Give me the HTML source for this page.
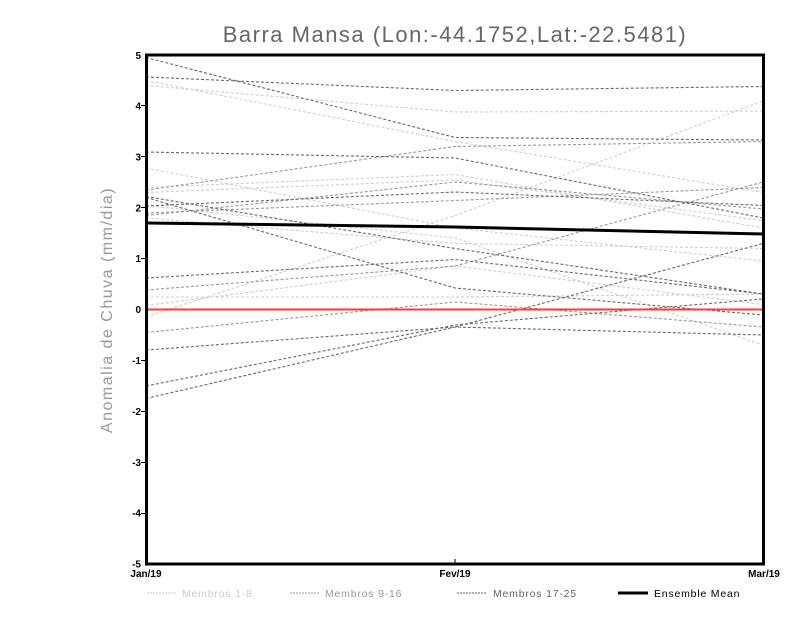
<!DOCTYPE html>
<html><head><meta charset="utf-8"><style>body{margin:0;background:#fff}svg{display:block}</style></head><body>
<svg width="800" height="618" xmlns="http://www.w3.org/2000/svg" font-family="Liberation Sans, sans-serif">
<rect width="800" height="618" fill="#fff"/>
<text x="455" y="42" text-anchor="middle" font-size="22" fill="#666" letter-spacing="1.5">Barra Mansa (Lon:-44.1752,Lat:-22.5481)</text>
<text transform="translate(112,310) rotate(-90)" text-anchor="middle" font-size="16" fill="#999" letter-spacing="1.5">Anomalia de Chuva (mm/dia)</text>
<g fill="none" stroke-width="1.1" stroke-dasharray="3,2" stroke="#cfcfcf">
<polyline points="146,85.5 455,112 763,111"/>
<polyline points="146,80.5 455,141.5 763,192.5"/>
<polyline points="146,168 455,228 763,261"/>
<polyline points="146,317 455,215.5 763,101"/>
<polyline points="146,297 455,297 763,294"/>
<polyline points="146,187.5 455,174.5 763,228"/>
<polyline points="146,205.5 455,238 763,345"/>
<polyline points="146,192.5 455,180 763,220.5"/>
<polyline points="146,218 455,243.5 763,248.5"/>
<polyline points="146,305.5 455,266 763,304.5"/>
</g>
<g fill="none" stroke-width="1.1" stroke-dasharray="3,2" stroke="#999">
<polyline points="146,190 455,146.5 763,141.5"/>
<polyline points="146,213 455,200.5 763,187.5"/>
<polyline points="146,290 455,266 763,182"/>
<polyline points="146,332.5 455,302 763,327"/>
<polyline points="146,215.5 455,182 763,209"/>
</g>
<g fill="none" stroke-width="1.1" stroke-dasharray="3,2" stroke="#6a6a6a">
<polyline points="146,57.5 455,137.5 763,140"/>
<polyline points="146,77 455,90.5 763,86.5"/>
<polyline points="146,196.5 455,248.5 763,294"/>
<polyline points="146,197.5 455,288 763,315"/>
<polyline points="146,278 455,259.5 763,294"/>
<polyline points="146,350 455,327 763,243.5"/>
<polyline points="146,386 455,325 763,299"/>
<polyline points="146,398.5 455,327 763,335"/>
<polyline points="146,152 455,158 763,218"/>
<polyline points="146,206 455,192 763,205.5"/>
</g>
<line x1="146" y1="309.5" x2="763" y2="309.5" stroke="#f04040" stroke-width="2"/>
<polyline points="146,223 455,227 763,234" fill="none" stroke="#000" stroke-width="3"/>
<rect x="146.5" y="55" width="617" height="509" fill="none" stroke="#000" stroke-width="3"/>
<g font-size="10" font-weight="bold" text-anchor="end" fill="#000">
<text x="141" y="59">5</text><text x="141" y="109.5">4</text><text x="141" y="160.5">3</text><text x="141" y="211.5">2</text><text x="141" y="262">1</text><text x="141" y="313">0</text><text x="141" y="364">-1</text><text x="141" y="415">-2</text><text x="141" y="466">-3</text><text x="141" y="516.5">-4</text><text x="141" y="567.5">-5</text>
</g>
<g stroke="#000" stroke-width="1">
<line x1="141" y1="105.5" x2="146" y2="105.5"/><line x1="141" y1="156.5" x2="146" y2="156.5"/><line x1="141" y1="207.5" x2="146" y2="207.5"/><line x1="141" y1="258.5" x2="146" y2="258.5"/><line x1="141" y1="360.5" x2="146" y2="360.5"/><line x1="141" y1="411.5" x2="146" y2="411.5"/><line x1="141" y1="462.5" x2="146" y2="462.5"/><line x1="141" y1="513.5" x2="146" y2="513.5"/>
<line x1="455" y1="559" x2="455" y2="564"/>
</g>
<g font-size="10" font-weight="bold" fill="#000" text-anchor="middle">
<text x="146" y="577">Jan/19</text><text x="455" y="577">Fev/19</text><text x="764" y="577">Mar/19</text>
</g>
<g font-size="10.5" letter-spacing="0.8">
<line x1="147" y1="593" x2="177" y2="593" stroke="#ccc" stroke-dasharray="2,1"/>
<text x="182" y="597" fill="#ccc">Membros 1-8</text>
<line x1="290" y1="593" x2="320" y2="593" stroke="#999" stroke-dasharray="2,1"/>
<text x="325" y="597" fill="#999">Membros 9-16</text>
<line x1="457" y1="593" x2="487" y2="593" stroke="#666" stroke-dasharray="2,1"/>
<text x="493" y="597" fill="#666">Membros 17-25</text>
<line x1="618" y1="593" x2="648" y2="593" stroke="#000" stroke-width="3"/>
<text x="654" y="597" fill="#000">Ensemble Mean</text>
</g>
</svg>
</body></html>
